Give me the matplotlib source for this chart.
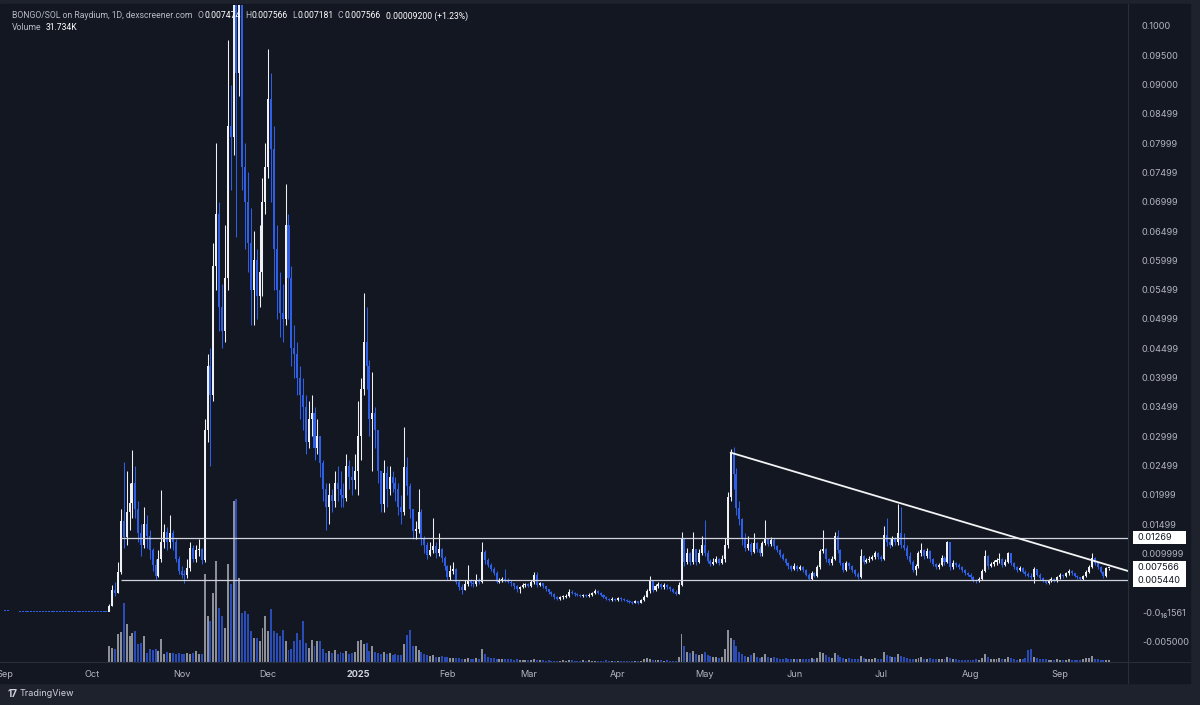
import numpy as np
import pandas as pd
import matplotlib
matplotlib.use('Agg')
import matplotlib.pyplot as plt
import matplotlib.transforms as mtransforms
from matplotlib.patches import Rectangle

plt.rcParams['font.family'] = ['Inter', 'DejaVu Sans']

# ---- data (prices in 0.001 SOL, one value per day from 2024-09-01) ----
first_day = '2024-09-01'

# flat pre-launch stretch (Sep 1 - Oct 6)
prelaunch_close = [0.10, 0.10, 0.09, 0.09, 0.09, 0.08, 0.08, 0.08, 0.08, 0.07,
                   0.07, 0.07, 0.07, 0.07, 0.06, 0.06, 0.06, 0.06, 0.06, 0.06,
                   0.05, 0.05, 0.05, 0.05, 0.05, 0.05, 0.05, 0.04, 0.04, 0.04,
                   0.04, 0.04, 0.04, 0.04, 0.03, 0.03]

# Oct 7 2024 -> Sep 18 2025
close_m = [
    # Oct
    1.0, 3.7, 3.3, 6.8, 15.6, 12.8, 17.0, 18.6, 22.0, 17.5, 13.5, 11.5, 15.0, 13.0, 10.5,
    8.0, 6.2, 9.0, 12.0, 13.6, 12.0, 13.5, 12.0, 9.0, 7.0,
    # Nov
    6.4, 6.3, 7.5, 11.0, 9.0, 10.5, 10.8, 8.8, 31.0, 42.0, 37.0, 59.0, 68.0, 52.0, 48.0,
    57.0, 83.0, 81.0, 104.0, 92.0, 104.0, 76.0, 70.0, 63.0, 55.0, 60.0, 54.0, 58.0, 70.0, 76.0,
    # Dec
    87.6, 79.0, 62.0, 55.0, 51.0, 50.0, 66.0, 57.0, 45.0, 44.0, 40.0, 37.0, 35.0, 29.0, 33.0,
    34.0, 28.0, 30.0, 25.5, 21.0, 18.0, 20.0, 19.0, 22.0, 21.0, 20.0, 19.5, 25.0, 23.0, 22.5, 24.0,
    # Jan
    30.0, 38.0, 46.0, 42.0, 33.0, 34.0, 31.0, 24.0, 18.5, 23.7, 21.0, 23.0, 22.0, 21.0, 18.0,
    17.0, 24.7, 21.5, 17.5, 13.8, 14.2, 17.0, 12.5, 11.5, 9.8, 10.5, 11.3, 10.0, 10.8, 9.3, 7.8,
    # Feb
    6.0, 7.0, 7.4, 5.2, 4.2, 3.8, 4.8, 5.3, 4.9, 4.7, 5.3, 5.1, 10.2, 8.8, 8.0,
    7.4, 6.6, 5.2, 5.4, 5.6, 5.4, 5.2, 4.9, 4.4, 3.9, 4.3, 4.6, 4.7,
    # Mar
    4.5, 5.1, 6.3, 4.6, 4.9, 4.4, 3.9, 3.4, 3.0, 2.5, 2.3, 2.5, 2.6, 2.7, 3.5,
    3.3, 3.1, 2.9, 2.7, 2.9, 2.7, 2.9, 3.2, 3.6, 3.3, 2.9, 2.6, 2.2, 2.0, 2.2, 2.0,
    # Apr
    2.4, 2.2, 2.0, 1.9, 1.7, 1.6, 1.8, 1.6, 2.0, 2.6, 3.6, 5.3, 3.8, 4.4, 4.8,
    4.3, 4.6, 4.2, 3.9, 3.5, 3.1, 4.6, 12.7, 8.6, 10.0, 8.5, 10.8, 8.5, 10.1, 11.4,
    # May
    10.0, 8.7, 8.2, 8.6, 9.0, 8.4, 9.0, 11.4, 19.6, 27.1, 23.5, 17.8, 15.8, 12.5, 11.0,
    11.6, 10.2, 11.8, 10.8, 10.0, 11.7, 12.4, 11.6, 12.3, 11.2, 10.6, 9.8, 9.1, 8.3, 7.8, 7.4,
    # Jun
    7.8, 7.3, 7.7, 7.2, 6.4, 5.7, 6.6, 6.2, 7.6, 10.4, 10.8, 9.0, 8.3, 9.0, 13.0,
    10.6, 8.4, 7.2, 8.3, 7.8, 7.1, 6.5, 6.0, 9.5, 8.5, 8.8, 9.1, 9.4, 10.0, 9.4,
    # Jul
    9.0, 13.2, 12.0, 11.4, 12.4, 12.0, 13.5, 11.5, 11.0, 9.5, 8.5, 7.2, 7.8, 10.0, 10.6,
    9.5, 10.4, 9.0, 8.2, 7.6, 8.0, 9.3, 8.5, 11.9, 7.6, 8.4, 8.0, 7.6, 7.1, 6.7, 6.4,
    # Aug
    6.0, 5.5, 5.3, 5.6, 7.0, 9.6, 7.8, 8.2, 8.5, 8.8, 9.0, 8.0, 8.6, 10.0, 8.3,
    7.7, 7.2, 7.5, 6.9, 6.5, 6.2, 6.0, 7.4, 6.4, 5.8, 5.4, 4.9, 5.3, 5.6, 5.4, 5.9,
    # Sep
    6.3, 6.1, 6.6, 7.0, 6.6, 6.2, 5.9, 5.7, 6.1, 6.9, 7.7, 9.3, 8.3, 7.7, 6.8,
    6.1, 7.474, 7.566,
]

high_m = [
    1.3, 4.6, 5.2, 8.5, 17.6, 25.6, 24.0, 22.0, 27.6, 25.0, 19.0, 15.0, 18.0, 16.5, 14.0,
    11.0, 9.0, 10.5, 20.8, 15.0, 14.5, 16.5, 14.0, 12.5, 9.5,
    7.8, 7.2, 9.0, 12.0, 11.5, 11.5, 12.5, 11.0, 33.0, 44.0, 45.0, 63.0, 80.0, 70.0, 56.0,
    66.0, 97.6, 90.0, 110.0, 108.0, 112.0, 106.0, 80.0, 75.0, 69.0, 65.0, 62.0, 66.0, 74.0, 80.0,
    96.0, 92.0, 83.0, 66.0, 58.0, 56.0, 73.0, 68.0, 59.0, 49.0, 46.0, 42.0, 40.0, 37.0, 36.0,
    37.0, 35.0, 33.0, 30.0, 26.0, 22.0, 22.0, 21.0, 24.0, 25.0, 24.0, 22.0, 27.0, 26.0, 25.0, 27.0,
    36.0, 40.0, 54.4, 52.0, 43.0, 41.0, 35.0, 30.0, 24.0, 26.0, 25.0, 25.0, 24.0, 23.0, 22.0,
    20.0, 31.6, 26.5, 22.0, 17.5, 15.5, 21.0, 17.5, 13.0, 12.0, 12.0, 16.0, 12.0, 13.5, 11.0, 9.5,
    8.0, 8.0, 8.5, 7.5, 5.5, 4.7, 5.4, 8.0, 5.6, 5.4, 6.5, 5.8, 12.0, 10.5, 9.2,
    8.3, 7.7, 7.0, 5.8, 6.0, 7.4, 5.8, 5.4, 5.0, 4.6, 4.5, 4.9, 5.0,
    4.9, 5.4, 6.9, 6.8, 5.2, 5.0, 4.5, 4.0, 3.6, 3.2, 2.7, 2.8, 2.9, 3.0, 3.9,
    3.7, 3.4, 3.2, 3.0, 3.1, 3.0, 3.2, 3.5, 3.9, 3.8, 3.4, 3.0, 2.7, 2.4, 2.5, 2.4,
    2.6, 2.5, 2.4, 2.2, 2.0, 1.9, 2.0, 1.9, 2.2, 2.9, 4.0, 6.2, 5.5, 4.8, 5.1,
    4.9, 5.0, 4.8, 4.4, 4.1, 3.7, 5.2, 13.7, 12.6, 11.0, 10.3, 13.6, 10.5, 10.8, 12.9,
    15.7, 10.5, 9.0, 9.2, 9.6, 9.2, 9.8, 12.7, 20.5, 27.8, 28.2, 24.5, 19.0, 16.0, 13.5,
    13.0, 12.0, 13.4, 12.0, 11.2, 12.2, 15.7, 12.6, 12.8, 12.6, 11.4, 10.8, 10.0, 9.3, 8.5, 8.0,
    8.3, 8.0, 8.1, 7.9, 7.3, 6.6, 7.0, 6.9, 8.0, 10.8, 14.0, 11.0, 9.2, 9.5, 13.6,
    14.0, 10.8, 8.6, 8.7, 8.5, 8.0, 7.3, 6.8, 10.8, 9.8, 9.2, 9.5, 9.8, 10.4, 10.2,
    9.7, 14.6, 16.0, 12.6, 13.0, 12.8, 18.5, 18.0, 13.5, 11.5, 10.2, 8.8, 8.2, 10.4, 11.8,
    10.7, 10.9, 10.6, 9.2, 8.4, 8.4, 9.7, 9.6, 12.2, 11.8, 8.8, 8.5, 8.3, 7.8, 7.3, 6.9,
    6.6, 6.2, 5.7, 5.9, 7.3, 10.6, 9.8, 8.6, 8.9, 9.2, 10.0, 9.3, 9.0, 10.3, 10.1,
    8.5, 7.9, 7.8, 7.6, 7.1, 6.8, 6.6, 7.6, 7.4, 6.6, 6.0, 5.5, 5.6, 5.9, 5.8, 6.2,
    6.6, 6.5, 6.9, 7.3, 7.1, 6.7, 6.3, 6.0, 6.3, 7.2, 8.0, 10.1, 9.4, 8.5, 7.8,
    7.0, 7.6, 7.566,
]

low_m = [
    0.1, 1.0, 2.8, 3.2, 6.5, 11.0, 11.5, 14.0, 16.0, 16.0, 12.0, 9.5, 11.0, 11.0, 9.0,
    7.0, 5.5, 6.0, 8.5, 11.0, 10.5, 11.0, 10.5, 8.5, 6.5,
    5.8, 5.0, 5.8, 7.0, 8.5, 8.5, 9.5, 8.2, 8.5, 29.0, 25.0, 36.0, 55.0, 48.0, 45.0,
    46.0, 55.0, 72.0, 78.0, 64.0, 88.0, 72.0, 62.0, 58.0, 49.0, 49.0, 50.0, 52.0, 54.0, 68.0,
    74.0, 70.0, 55.0, 50.0, 47.0, 46.0, 49.0, 50.0, 42.0, 40.0, 37.0, 33.0, 31.0, 27.0, 28.0,
    30.0, 26.0, 27.0, 23.0, 19.0, 14.0, 15.0, 17.0, 18.0, 19.0, 18.0, 18.0, 19.0, 21.0, 20.0, 21.0,
    20.0, 26.0, 37.0, 38.0, 30.0, 24.0, 28.0, 22.0, 17.0, 17.0, 18.0, 20.0, 20.5, 19.0, 16.5,
    15.0, 16.5, 20.0, 16.0, 12.5, 12.5, 13.5, 11.5, 10.0, 9.0, 9.5, 10.0, 9.3, 9.5, 8.5, 7.2,
    5.5, 5.5, 6.5, 4.8, 3.8, 3.0, 3.7, 4.5, 4.5, 4.2, 4.5, 4.8, 5.0, 8.2, 7.6,
    7.0, 6.3, 5.0, 4.9, 5.2, 5.1, 4.9, 4.5, 3.9, 3.5, 3.3, 4.1, 4.3,
    4.2, 4.3, 4.8, 4.3, 4.4, 4.1, 3.6, 3.1, 2.7, 2.2, 2.0, 2.1, 2.3, 2.4, 2.5,
    3.0, 2.8, 2.7, 2.5, 2.6, 2.5, 2.6, 2.8, 3.1, 3.1, 2.7, 2.4, 2.0, 1.8, 1.9, 1.8,
    1.9, 1.9, 1.8, 1.7, 1.5, 1.4, 1.5, 1.4, 1.5, 1.9, 2.5, 3.3, 3.5, 3.6, 4.1,
    4.0, 4.0, 3.9, 3.6, 3.3, 2.9, 3.0, 4.4, 7.8, 8.2, 8.0, 8.2, 8.0, 8.3, 9.8,
    9.5, 8.3, 7.8, 8.0, 8.4, 8.1, 8.2, 8.5, 11.0, 19.0, 21.0, 16.5, 14.8, 11.5, 10.4,
    10.5, 9.8, 10.0, 10.2, 9.6, 9.6, 11.5, 11.2, 11.3, 10.8, 10.2, 9.4, 8.8, 8.0, 7.4, 7.0,
    7.1, 7.0, 7.1, 6.8, 6.1, 5.4, 5.5, 5.9, 6.0, 7.3, 10.0, 8.6, 8.0, 8.1, 8.8,
    10.0, 8.0, 6.9, 7.0, 7.4, 6.8, 6.2, 5.7, 5.8, 8.2, 8.3, 8.6, 8.9, 9.0, 9.1,
    8.7, 8.8, 11.3, 11.0, 11.2, 11.4, 11.5, 11.0, 10.5, 9.0, 8.2, 6.9, 6.3, 7.5, 9.6,
    9.1, 9.2, 8.6, 7.9, 7.3, 7.4, 7.8, 8.1, 8.3, 7.2, 7.4, 7.6, 7.3, 6.8, 6.4, 6.1,
    5.7, 5.2, 5.0, 5.1, 5.4, 6.8, 7.4, 7.6, 7.9, 8.1, 8.4, 7.7, 7.8, 8.3, 8.0,
    7.4, 6.9, 7.0, 6.6, 6.2, 5.9, 5.7, 5.0, 6.1, 5.5, 5.1, 4.7, 4.8, 5.1, 5.1, 5.2,
    5.7, 5.8, 5.9, 6.4, 6.3, 5.9, 5.6, 5.4, 5.5, 5.9, 6.7, 7.5, 8.0, 7.4, 6.6,
    5.8, 6.0, 7.181,
]

# daily volume (relative units), Oct 7 2024 -> Sep 18 2025
volume = [
    16, 14, 13, 28, 30, 59, 38, 26, 29, 31, 18, 19, 26, 9, 13, 12, 13, 11, 23, 8,
    10, 9, 9, 8, 9, 8, 8, 9, 8, 9, 11, 8, 8,
    88, 46, 41, 69, 101, 54, 46, 34, 98, 78, 161, 163, 84, 49, 51, 48, 31, 24, 24, 21,
    34, 46, 31, 53, 31, 29, 26, 32, 21, 12, 13, 21, 29, 22, 41, 19, 14, 22, 16, 21,
    21, 13, 9, 11, 9, 12, 8, 10, 9, 11, 8, 9, 10,
    21, 22, 18, 19, 11, 16, 10, 9, 8, 10, 8, 9, 7, 8, 7, 7, 18, 27, 32, 16,
    16, 12, 10, 8, 7, 6, 7, 5, 5, 6, 5, 5, 4, 4, 4, 4, 3, 3, 4, 3,
    3, 4, 3, 13, 8, 5, 4, 4, 3, 3, 3, 3, 3, 3, 2, 3,
    2, 2, 2, 2, 2, 3, 2, 2, 2, 1, 2, 1, 1, 1, 1, 2, 1, 2, 2, 1,
    1, 1, 2, 1, 2, 1, 1, 1, 1, 1, 2, 1, 1, 1, 1, 1, 1, 1, 1, 1,
    1, 1, 1, 3, 4, 3, 2, 2, 2, 2, 1, 2, 1, 1, 1,
    5, 28, 16, 10, 9, 11, 8, 7, 8, 10, 7, 6, 5, 5, 4, 5, 13, 32, 24, 22,
    16, 10, 8, 6, 5, 7, 9, 5, 4, 5, 8, 5, 4, 5, 4, 3, 3, 4, 3, 3,
    3, 3, 3, 3, 3, 3, 4, 3, 4, 10, 9, 7, 5, 4, 9, 7, 5, 4, 3, 4,
    3, 3, 3, 6, 4, 3, 3, 3, 4, 3, 3, 10, 7, 6, 5, 5, 8, 6, 5, 4,
    3, 3, 3, 4, 5, 3, 3, 4, 3, 3, 3, 3, 3, 5, 4, 3, 3, 2, 2, 2,
    2, 2, 2, 3, 2, 4, 8, 5, 3, 3, 3, 4, 3, 3, 5, 4, 3, 2, 3, 3,
    4, 12, 13, 5, 4, 3, 3, 3, 2, 2, 2, 3, 2, 2, 2, 3, 2, 2, 2, 2,
    3, 4, 4, 6, 3, 3, 2, 2, 2, 2,
]

# drawn levels and trendline
levels = [0.01269, 0.005440]
level_start = 40
trend_days = [251, 388.5]
trend_prices = [0.0272, 0.0070]

price_ticks = [0.1, 0.095, 0.09, 0.085, 0.08, 0.075, 0.07, 0.065, 0.06, 0.055, 0.05,
               0.045, 0.04, 0.035, 0.03, 0.025, 0.02, 0.015, 0.01, 0.0, -0.005]
price_tick_labels = ['0.1000', '0.09500', '0.09000', '0.08499', '0.07999', '0.07499',
                     '0.06999', '0.06499', '0.05999', '0.05499', '0.04999', '0.04499',
                     '0.03999', '0.03499', '0.02999', '0.02499', '0.01999', '0.01499',
                     '0.009999', '-0.0\u2081\u20861561', '-0.005000']
box_prices = [0.01269, 0.007566, 0.005440]
box_labels = ['0.01269', '0.007566', '0.005440']

# ---- build arrays ----
closes = np.array(prelaunch_close + close_m) / 1000
highs = np.array(prelaunch_close + high_m) / 1000
lows = np.array(prelaunch_close + low_m) / 1000
opens = np.r_[closes[0], closes[:-1]]
days = np.arange(len(closes))
dates = pd.date_range(first_day, periods=len(closes) + 10, freq='D')
n_pre = len(prelaunch_close)

BG = '#131722'
FRAME = '#1e222d'
UP = '#eef0f4'
DOWN = '#2f5fe6'
VUP = '#8d9099'
VDOWN = '#2b4cb5'
TXT = '#b2b5be'

up = closes > opens
cols = np.where(up, UP, DOWN)

W, H = 1200, 705
fig = plt.figure(figsize=(12, 7.05), dpi=100, facecolor=FRAME)
fig.patches.append(Rectangle((0, 22 / H), 1190 / W, 1 - 22 / H - 4 / H,
                             transform=fig.transFigure, color=BG, zorder=-10))

ax_rect = [0, (H - 662) / H, 1128 / W, (662 - 5) / H]
vax = fig.add_axes(ax_rect)
ax = fig.add_axes(ax_rect, sharex=vax)
for a in (ax, vax):
    a.patch.set_visible(False)
    for s in a.spines.values():
        s.set_visible(False)

# volume
vx = days[n_pre:]
vcols = np.where(up[n_pre:], VUP, VDOWN)
vax.bar(vx, volume, width=0.68, color=vcols, linewidth=0)
vax.set_ylim(0, 657)
vax.set_yticks([])
vax.tick_params(axis='x', length=0, labelbottom=False)

# candles
ax.vlines(days, lows, highs, colors=cols, linewidth=0.75)
body = np.maximum(np.abs(closes - opens), 0.00016)
ax.bar(days, body, bottom=np.minimum(opens, closes), width=0.7, color=cols, linewidth=0)

# levels + trendline
xmin, xmax = -1.83, 388.5
ax.hlines(levels, level_start, xmax, colors='#d1d4dc', linewidth=0.9)
ax.plot(trend_days, trend_prices, color='#f2f3f5', linewidth=1.3, solid_capstyle='round')

ax.set_xlim(xmin, xmax)
ax.set_ylim(-0.00853, 0.10358)

# price scale
ax.yaxis.tick_right()
ax.set_yticks(price_ticks)
ax.set_yticklabels(price_tick_labels)
ax.tick_params(axis='y', length=0, pad=10, labelcolor=TXT, labelsize=6.6)

trans = mtransforms.blended_transform_factory(ax.transAxes, ax.transData)
for p, lab in zip(box_prices, box_labels):
    ax.add_patch(Rectangle((1.0044, p - 0.0011), 0.047, 0.0022, transform=trans,
                           facecolor='white', edgecolor='none', clip_on=False, zorder=5))
    ax.text(1.0085, p, lab, transform=trans, ha='left', va='center', fontsize=6.6,
            color='#131722', clip_on=False, zorder=6)

# time scale
month_starts = dates[dates.is_month_start]
month_pos = [(d - dates[0]).days for d in month_starts]
month_labels = ['2025' if d.month == 1 else d.strftime('%b') for d in month_starts]
ax.set_xticks(month_pos)
ax.set_xticklabels(month_labels)
ax.tick_params(axis='x', length=0, pad=6, labelcolor=TXT, labelsize=6.6)
for t in ax.get_xticklabels():
    if t.get_text() == '2025':
        t.set_fontweight('bold')
        t.set_color('#d1d4dc')

# separators
fig.add_artist(plt.Line2D([0, 1190 / W], [(H - 662) / H] * 2, color='#2a2e39', lw=0.8))
fig.add_artist(plt.Line2D([1128 / W] * 2, [(H - 683) / H, 1 - 4 / H], color='#2a2e39', lw=0.8))

# header, laid out piece by piece
renderer = fig.canvas.get_renderer()
hdr = [('BONGO/SOL on Raydium, 1D, dexscreener.com', '#b8bbc4', 5),
       ('O', '#b8bbc4', 1), ('0.007474', '#ffffff', 4),
       ('H', '#b8bbc4', 1), ('0.007566', '#ffffff', 4),
       ('L', '#b8bbc4', 1), ('0.007181', '#ffffff', 4),
       ('C', '#b8bbc4', 1), ('0.007566', '#ffffff', 5),
       ('0.00009200 (+1.23%)', '#ffffff', 0)]


def put_row(pieces, x0, y):
    x = x0
    for s, c, gap in pieces:
        t = fig.text(x / W, 1 - y / H, s, color=c, fontsize=6.2, va='center', ha='left',
                     family=['Roboto', 'DejaVu Sans'], zorder=10)
        x = t.get_window_extent(renderer).x1 + gap


put_row(hdr, 12, 16)
put_row([('Volume', '#b8bbc4', 4), ('31.734K', '#ffffff', 0)], 12, 28)

# logo
fig.text(8 / W, 1 - 694 / H, '17', color='#d1d4dc', fontsize=7, fontweight='bold', va='center')
fig.text(20 / W, 1 - 694 / H, 'TradingView', color='#d1d4dc', fontsize=6.5, va='center')

fig.savefig('out.png', dpi=100, facecolor=FRAME)
